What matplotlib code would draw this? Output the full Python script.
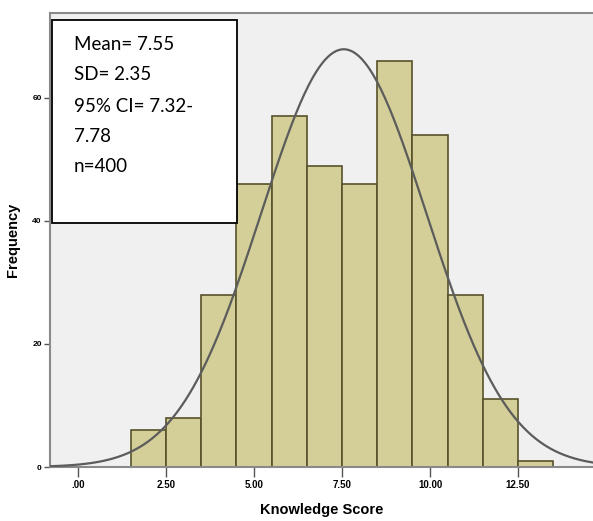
import matplotlib.pyplot as plt
import numpy as np
from matplotlib.patches import Rectangle

# histogram of knowledge scores (bin width 1, centred on whole numbers)
bin_centers = [2, 3, 4, 5, 6, 7, 8, 9, 10, 11, 12, 13]
counts = [6, 8, 28, 46, 57, 49, 46, 66, 54, 28, 11, 1]
x_ticks = [0, 2.5, 5, 7.5, 10, 12.5]
x_tick_labels = [".00", "2.50", "5.00", "7.50", "10.00", "12.50"]
y_ticks = [0, 20, 40, 60]
y_tick_labels = ["0", "20", "40", "60"]

MEAN = 7.55
SD = 2.35
N = 400
stats_lines = ["Mean= 7.55", "SD= 2.35", "95% CI= 7.32-", "7.78", "n=400"]

BAR_COLOR = "#d4ce98"
EDGE_COLOR = "#57522a"
BG_COLOR = "#f0f0f0"
W, H = 593, 521

fig = plt.figure(figsize=(W / 100, H / 100), dpi=100)
ax = fig.add_axes([50 / W, (H - 467) / H, (W - 50) / W, (467 - 13) / H])
ax.set_facecolor(BG_COLOR)

ax.bar(bin_centers, counts, width=1.0, color=BAR_COLOR,
       edgecolor=EDGE_COLOR, linewidth=1.2, zorder=2)

# normal curve scaled to counts (bin width 1)
xs = np.linspace(-0.8, 14.7, 400)
ys = N * np.exp(-0.5 * ((xs - MEAN) / SD) ** 2) / (SD * np.sqrt(2 * np.pi))
ax.plot(xs, ys, color="#5c5c5c", linewidth=1.6, zorder=3)

ax.set_xlim(-0.795, 14.63)
ax.set_ylim(0, 73.8)

ax.set_xticks(x_ticks)
ax.set_xticklabels(x_tick_labels, fontsize=7, fontweight="bold",
                   family="Liberation Sans")
ax.set_yticks(y_ticks)
ax.set_yticklabels(y_tick_labels, fontsize=6, fontweight="bold",
                   family="Liberation Sans")
ax.tick_params(axis="x", length=7, width=1, color="#555555", pad=2)
ax.tick_params(axis="y", length=4, width=1, color="#555555", pad=2)

for side in ["left", "top", "bottom"]:
    ax.spines[side].set_color("#8a8a8a")
    ax.spines[side].set_linewidth(1.5)
ax.spines["right"].set_visible(False)

ax.set_xlabel("Knowledge Score", fontsize=10.5, fontweight="bold",
              family="Liberation Sans", labelpad=10)
ax.set_ylabel("Frequency", fontsize=10.5, fontweight="bold",
              family="Liberation Sans", labelpad=9)

# stats text box
box = Rectangle((52 / W, (H - 223) / H), 185 / W, 203 / H,
                transform=fig.transFigure, facecolor="white",
                edgecolor="black", linewidth=1.3, zorder=5)
fig.patches.append(box)
line_y = [44, 75, 106, 136, 166]
for txt, yy in zip(stats_lines, line_y):
    fig.text(74 / W, (H - yy) / H, txt, fontsize=13.5, family="Lato",
             va="center", ha="left", zorder=6)

fig.savefig("out.png", dpi=100)
